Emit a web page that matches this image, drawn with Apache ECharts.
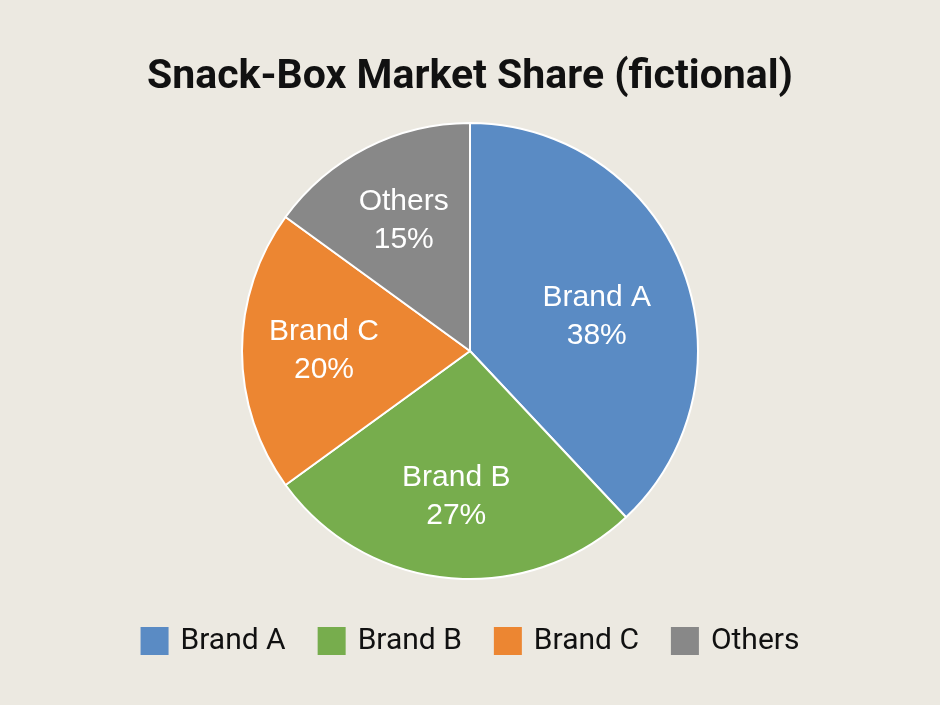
<!DOCTYPE html>
<html>
<head>
<meta charset="utf-8">
<script src="https://cdn.jsdelivr.net/npm/echarts@6/dist/echarts.min.js"></script>
<style>
html,body{margin:0;padding:0;background:#ECE9E1;}
#chart{width:940px;height:705px;}
</style>
</head>
<body>
<div id="chart"></div>
<script>
const titleText = 'Snack-Box Market Share (fictional)';
const categories = ['Brand A', 'Brand B', 'Brand C', 'Others'];
const shares = [38, 27, 20, 15];
const colors = ['#5A8BC4', '#77AD4D', '#EC8632', '#888888'];

const chart = echarts.init(document.getElementById('chart'));

const mainData = categories.map((n, i) => ({ name: n, value: shares[i], itemStyle: { color: colors[i] } }));
const labelData = categories.map((n, i) => ({ name: n, value: shares[i] }));

chart.setOption({
  backgroundColor: '#ECE9E1',
  animation: false,
  title: {
    text: titleText,
    left: 'center',
    top: 52,
    textStyle: { fontFamily: 'Roboto', fontWeight: 'bold', fontSize: 41, color: '#111' }
  },
  legend: {
    data: categories,
    bottom: 44,
    left: 'center',
    icon: 'rect',
    itemWidth: 28,
    itemHeight: 28,
    itemGap: 32,
    itemStyle: { borderWidth: 0 },
    textStyle: { fontFamily: 'Roboto', fontSize: 30, color: '#111', padding: [0, 0, 0, 7] }
  },
  series: [
    {
      type: 'pie',
      center: ['50%', 351],
      radius: 228,
      startAngle: 90,
      clockwise: true,
      silent: true,
      data: mainData,
      label: { show: false },
      labelLine: { show: false },
      itemStyle: { borderColor: '#FFFFFF', borderWidth: 2 }
    },
    {
      type: 'pie',
      center: ['50%', 351],
      radius: 286,
      startAngle: 90,
      clockwise: true,
      silent: true,
      legendHoverLink: false,
      data: labelData,
      itemStyle: { color: 'rgba(0,0,0,0)', borderWidth: 0 },
      label: {
        show: true,
        position: 'inside',
        formatter: '{b}\n{c}%',
        color: '#FFFFFF',
        fontFamily: 'Liberation Sans',
        fontSize: 30,
        lineHeight: 38,
        textBorderWidth: 0
      },
      labelLine: { show: false },
      labelLayout: function (p) {
        return p.dataIndex === 0 ? { dx: -9, dy: 19 } : {};
      }
    }
  ]
});
</script>
</body>
</html>
